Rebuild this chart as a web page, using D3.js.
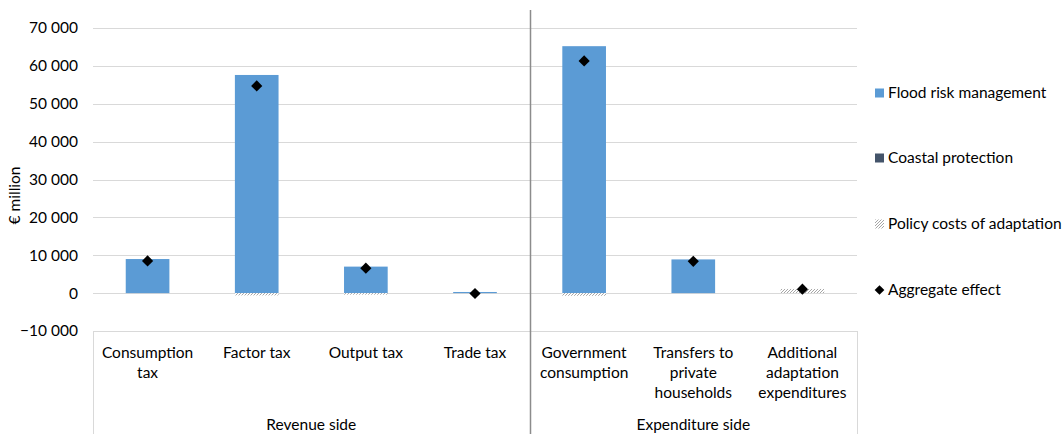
<!DOCTYPE html>
<html>
<head>
<meta charset="utf-8">
<script src="https://cdn.jsdelivr.net/npm/d3@7"></script>
<style>
  html, body { margin: 0; padding: 0; background: #fff; }
  svg { display: block; font-family: Lato, "Open Sans", sans-serif; }
</style>
</head>
<body>
<svg id="chart" width="1064" height="434"></svg>
<script>
// Fiscal effects of adaptation, € million
const categories = [
  ["Consumption", "tax"],
  ["Factor tax"],
  ["Output tax"],
  ["Trade tax"],
  ["Government", "consumption"],
  ["Transfers to", "private", "households"],
  ["Additional", "adaptation", "expenditures"]
];
const groups = [
  { label: "Revenue side", count: 4 },
  { label: "Expenditure side", count: 3 }
];
const floodRisk   = [9000, 57600, 7000, 300, 65200, 8900, 0];
const coastal     = [0, 0, 0, 0, 0, 0, 0];
const policyCosts = [0, -600, -400, 0, -700, 0, 1100];
const aggregate   = [8500, 54700, 6600, -100, 61300, 8400, 1050];
const yTicks = [-10000, 0, 10000, 20000, 30000, 40000, 50000, 60000, 70000];
const legendLabels = ["Flood risk management", "Coastal protection", "Policy costs of adaptation", "Aggregate effect"];

const colors = { flood: "#5b9bd5", coastal: "#44546a", grid: "#d9d9d9", text: "#000" };
const fontSize = 15.5;

const svg = d3.select("#chart");
const plot = { left: 93, right: 857, top: 28, bottom: 331 };

const x = d3.scaleBand()
  .domain(d3.range(categories.length))
  .range([plot.left, plot.right])
  .paddingInner(0.6)
  .paddingOuter(0.3);
const step = x.step();
const catLeft = i => plot.left + i * step;

const y = d3.scaleLinear().domain([-10000, 70000]).range([plot.bottom, plot.top]);

const fmt = d3.formatLocale({ decimal: ".", thousands: " ", grouping: [3], currency: ["", ""] }).format(",d");

// hatch pattern for policy costs
const defs = svg.append("defs");
const pat = defs.append("pattern")
  .attr("id", "hatch").attr("patternUnits", "userSpaceOnUse")
  .attr("width", 3).attr("height", 3);
pat.append("rect").attr("width", 3).attr("height", 3).attr("fill", "#fff");
pat.append("path").attr("d", "M-1,1 L1,-1 M0,3 L3,0 M2,4 L4,2")
  .attr("stroke", "#a6a6a6").attr("stroke-width", 1);

// gridlines
svg.append("g").selectAll("line").data(yTicks.filter(t => t > -10000)).join("line")
  .attr("x1", plot.left).attr("x2", plot.right)
  .attr("y1", d => Math.round(y(d)) + 0.5).attr("y2", d => Math.round(y(d)) + 0.5)
  .attr("stroke", colors.grid).attr("stroke-width", 1);

// y axis labels
const yAxis = svg.append("g").attr("transform", `translate(${plot.left - 15},0)`)
  .call(d3.axisLeft(y).tickValues(yTicks).tickSize(0).tickPadding(0).tickFormat(fmt));
yAxis.select(".domain").remove();
yAxis.selectAll("text").attr("font-size", fontSize).attr("fill", colors.text)
  .attr("font-family", "Lato, 'Open Sans', sans-serif");

svg.append("text")
  .attr("transform", `translate(20,${(plot.top + plot.bottom) / 2 + 16}) rotate(-90)`)
  .attr("text-anchor", "middle").attr("font-size", fontSize).attr("fill", colors.text)
  .text("€ million");

// stacked bars: positives stack up from 0, negatives stack down
const series = [
  { values: floodRisk, fill: colors.flood },
  { values: coastal, fill: colors.coastal },
  { values: policyCosts, fill: "url(#hatch)" }
];
const posBase = categories.map(() => 0);
const negBase = categories.map(() => 0);
const segments = [];
series.forEach(s => {
  s.values.forEach((v, i) => {
    if (v === 0) return;
    let y0, y1;
    if (v > 0) { y0 = posBase[i]; y1 = posBase[i] + v; posBase[i] = y1; }
    else { y0 = negBase[i]; y1 = negBase[i] + v; negBase[i] = y1; }
    segments.push({ i, y0, y1, fill: s.fill });
  });
});
svg.append("g").selectAll("rect").data(segments).join("rect")
  .attr("x", d => x(d.i))
  .attr("width", x.bandwidth())
  .attr("y", d => y(Math.max(d.y0, d.y1)))
  .attr("height", d => Math.abs(y(d.y0) - y(d.y1)))
  .attr("fill", d => d.fill);

// aggregate markers
const diamond = d3.symbol().type(d3.symbolDiamond2).size(80);
svg.append("g").selectAll("path").data(aggregate).join("path")
  .attr("d", diamond)
  .attr("transform", (d, i) => `translate(${x(i) + x.bandwidth() / 2},${y(d)})`)
  .attr("fill", "#000");

// category axis box
const axisG = svg.append("g");
axisG.append("line")
  .attr("x1", plot.left).attr("x2", plot.right)
  .attr("y1", plot.bottom + 0.5).attr("y2", plot.bottom + 0.5)
  .attr("stroke", colors.grid);
let acc = 0;
const bounds = [0];
groups.forEach(g => { acc += g.count; bounds.push(acc); });
bounds.forEach((b, k) => {
  const xx = Math.round(catLeft(b)) + 0.5;
  const isMid = k > 0 && k < bounds.length - 1;
  axisG.append("line")
    .attr("x1", xx).attr("x2", xx)
    .attr("y1", isMid ? 10 : plot.bottom).attr("y2", 434)
    .attr("stroke", isMid ? "#8c8c8c" : colors.grid)
    .attr("stroke-width", isMid ? 1.5 : 1);
});

// category labels
const catG = svg.append("g").selectAll("text").data(categories).join("text")
  .attr("text-anchor", "middle").attr("font-size", fontSize).attr("fill", colors.text)
  .attr("x", (d, i) => x(i) + x.bandwidth() / 2)
  .attr("y", 358);
catG.selectAll("tspan").data(d => d).join("tspan")
  .attr("x", function () { return d3.select(this.parentNode).attr("x"); })
  .attr("dy", (d, j) => j === 0 ? 0 : 20)
  .text(d => d);

// group labels
groups.forEach((g, k) => {
  const cx = (catLeft(bounds[k]) + catLeft(bounds[k + 1])) / 2;
  svg.append("text").attr("x", cx).attr("y", 430)
    .attr("text-anchor", "middle").attr("font-size", fontSize).attr("fill", colors.text)
    .text(g.label);
});

// legend
const legendY = [93, 158, 224, 290];
const leg = svg.append("g");
legendLabels.forEach((label, k) => {
  const cy = legendY[k];
  if (k < 3) {
    leg.append("rect").attr("x", 875).attr("y", cy - 4.5).attr("width", 9).attr("height", 9)
      .attr("fill", [colors.flood, colors.coastal, "url(#hatch)"][k]);
  } else {
    leg.append("path").attr("d", d3.symbol().type(d3.symbolDiamond2).size(60))
      .attr("transform", `translate(879.5,${cy})`).attr("fill", "#000");
  }
  leg.append("text").attr("x", 888).attr("y", cy).attr("dy", "0.35em")
    .attr("font-size", fontSize).attr("fill", colors.text).text(label);
});
</script>
</body>
</html>
